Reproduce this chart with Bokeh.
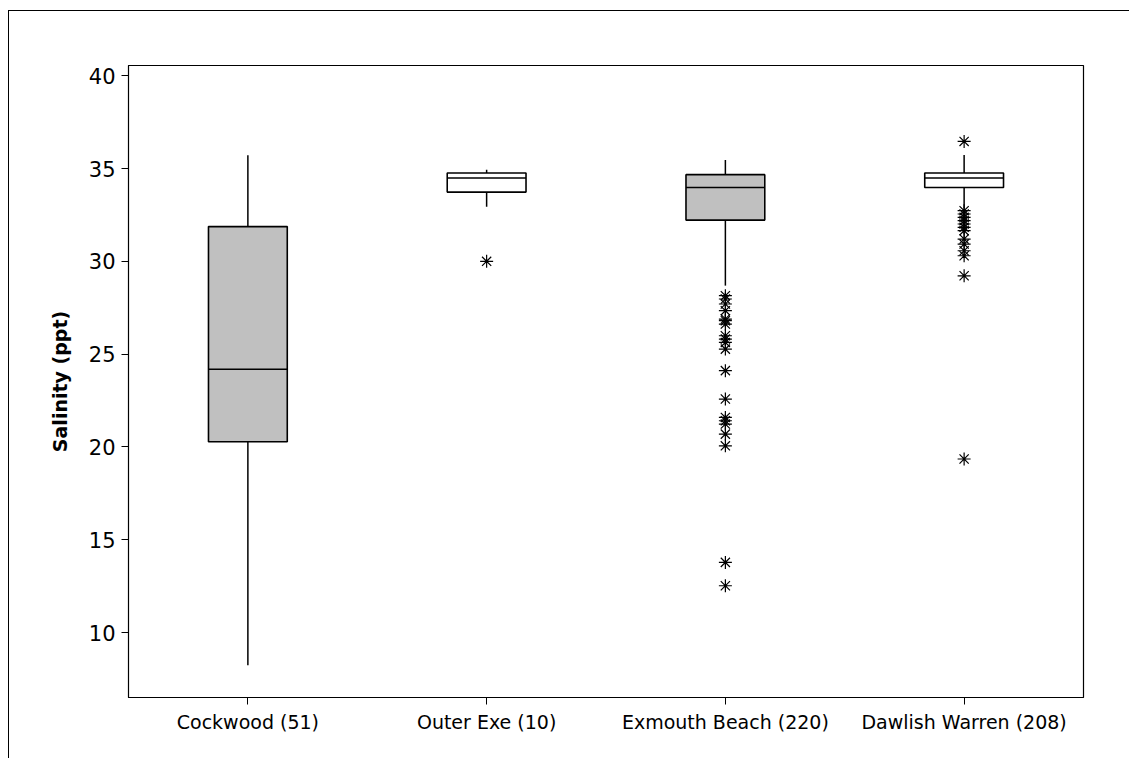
from bokeh.plotting import figure
from bokeh.models import FixedTicker, Range1d
from bokeh.embed import file_html
from bokeh.resources import INLINE

# ---- data ----
categories = ["Cockwood (51)", "Outer Exe (10)", "Exmouth Beach (220)", "Dawlish Warren (208)"]
whisker_low = [8.24, 32.94, 28.69, 32.87]
q1 = [20.28, 33.73, 32.22, 33.98]
median = [24.19, 34.49, 33.98, 34.49]
q3 = [31.87, 34.76, 34.67, 34.76]
whisker_high = [35.72, 34.94, 35.46, 35.73]
box_colors = ["#C0C0C0", "#FFFFFF", "#C0C0C0", "#FFFFFF"]

outliers_outer_exe = [30.0]
outliers_exmouth = [28.15, 27.97, 27.70, 27.34, 26.89, 26.80, 26.62, 25.99, 25.81, 25.63,
                    25.27, 24.11, 22.58, 21.59, 21.41, 21.23, 20.69, 20.06, 13.78, 12.52]
outliers_dawlish = [36.46, 32.73, 32.55, 32.37, 32.19, 32.01, 31.83, 31.65, 31.20, 30.93,
                    30.57, 30.30, 29.22, 19.35]

y_ticks = [10, 15, 20, 25, 30, 35, 40]

# ---- figure ----
p = figure(x_range=categories, y_range=Range1d(6.5, 40.55),
           width=1121, height=748, output_backend="svg", toolbar_location=None,
           min_border_left=119, min_border_right=47, min_border_top=54, min_border_bottom=62)
p.margin = (10, 0, 0, 8)
p.styles = {"border-left": "1px solid black", "border-top": "1px solid black"}

p.x_range.range_padding = 0
p.xgrid.visible = False
p.ygrid.visible = False
p.outline_line_color = "black"
p.outline_line_width = 1.2
p.background_fill_color = "white"
p.border_fill_color = "white"

FONT = "DejaVu Sans"
for ax in (p.xaxis[0], p.yaxis[0]):
    ax.axis_line_color = "black"
    ax.major_tick_line_color = "black"
    ax.minor_tick_line_color = None
    ax.major_tick_in = 0
    ax.major_tick_out = 7
    ax.major_label_text_font = FONT
    ax.major_label_text_color = "black"
    ax.axis_label_text_font = FONT

p.yaxis.ticker = FixedTicker(ticks=y_ticks)
p.yaxis.major_label_text_font_size = "21px"
p.yaxis.major_label_standoff = 6
p.yaxis.axis_label = "Salinity (ppt)"
p.yaxis.axis_label_text_font_style = "bold"
p.yaxis.axis_label_text_font_size = "19px"
p.yaxis.axis_label_text_color = "black"
p.yaxis.axis_label_standoff = 15

p.xaxis.major_label_text_font_size = "19px"
p.xaxis.major_label_standoff = 6

half = 0.165
# whiskers
p.segment(x0=categories, y0=q3, x1=categories, y1=whisker_high, line_color="black", line_width=1.5)
p.segment(x0=categories, y0=whisker_low, x1=categories, y1=q1, line_color="black", line_width=1.5)
# boxes
p.vbar(x=categories, bottom=q1, top=q3, width=2 * half, fill_color=box_colors,
       line_color="black", line_width=1.6)
# medians
p.segment(x0=[(c, -half) for c in categories], y0=median,
          x1=[(c, half) for c in categories], y1=median, line_color="black", line_width=1.5)

# outliers
ox = ([categories[1]] * len(outliers_outer_exe) + [categories[2]] * len(outliers_exmouth)
      + [categories[3]] * len(outliers_dawlish))
oy = outliers_outer_exe + outliers_exmouth + outliers_dawlish
p.scatter(x=ox, y=oy, marker="asterisk", size=13, line_color="black", line_width=1.2)

open("out.html", "w").write(file_html(p, INLINE))
